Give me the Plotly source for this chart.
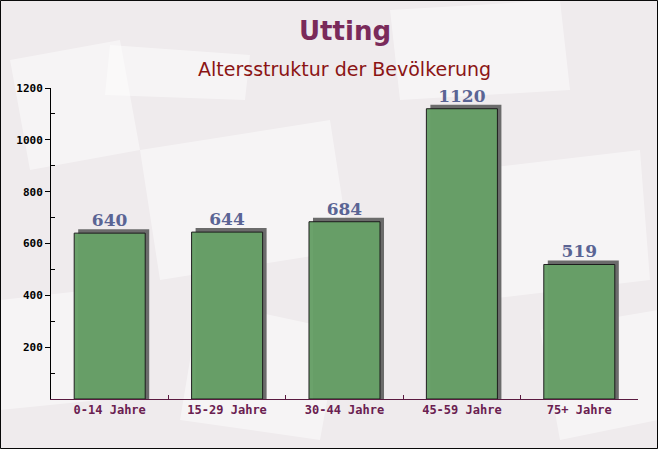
import plotly.graph_objects as go

categories = ["0-14 Jahre", "15-29 Jahre", "30-44 Jahre", "45-59 Jahre", "75+ Jahre"]
values = [640, 644, 684, 1120, 519]
y_ticks = [200, 400, 600, 800, 1000, 1200]
title = "Utting"
subtitle = "Altersstruktur der Bevölkerung"

W, H = 658, 449
ml, mr, mt, mb = 51, 20, 88, 50
pw, ph = W - ml - mr, H - mt - mb
ymax = 1200
lift = 4 * ymax / ph          # 4 px shadow lift in data units
shift = 4 / (pw / len(categories))  # 4 px shadow shift in category units
bw = 0.605

fig = go.Figure()
fig.add_trace(go.Bar(
    x=categories, y=[v + lift for v in values], width=bw, offset=-bw / 2 + shift,
    marker=dict(color="#6b6b6b", line=dict(width=0)), hoverinfo="skip", showlegend=False,
))
fig.add_trace(go.Bar(
    x=categories, y=values, width=bw, offset=-bw / 2,
    marker=dict(color="#67a067", opacity=0.97, line=dict(color="#1a1a1a", width=1)),
    text=[str(v) for v in values], textposition="outside", cliponaxis=False,
    textfont=dict(family="DejaVu Serif", size=17, color="#5a6494", weight="bold"),
    showlegend=False,
))


def px_to_paper(x, y):
    return (x - ml) / pw, (H - mb - y) / ph


# faint decorative envelope shapes in the background
envelopes = [
    [(10, 60), (120, 40), (140, 150), (30, 170)],
    [(140, 150), (330, 120), (350, 250), (160, 280)],
    [(390, 10), (560, 0), (570, 90), (400, 100)],
    [(470, 170), (640, 150), (650, 280), (480, 300)],
    [(200, 300), (340, 330), (320, 440), (180, 420)],
    [(540, 330), (658, 310), (658, 420), (560, 440)],
    [(0, 300), (90, 290), (100, 400), (0, 410)],
    [(110, 45), (250, 55), (245, 100), (105, 95)],
]
for poly in envelopes:
    pts = [px_to_paper(x, y) for x, y in poly]
    path = "M " + " L ".join(f"{px:.4f},{py:.4f}" for px, py in pts) + " Z"
    fig.add_shape(type="path", xref="paper", yref="paper", path=path,
                  fillcolor="rgba(255,255,255,0.45)", line=dict(width=0), layer="below")

fig.update_layout(
    width=W, height=H, barmode="overlay",
    margin=dict(l=ml, r=mr, t=mt, b=mb),
    paper_bgcolor="#efebed", plot_bgcolor="rgba(0,0,0,0)",
    title=None,
    annotations=[
        dict(text=title, x=0.5, xref="paper", y=px_to_paper(0, 31)[1], yref="paper",
             yanchor="middle", showarrow=False,
             font=dict(family="DejaVu Sans", size=26, color="#7a2a5a", weight="bold")),
        dict(text=subtitle, x=0.5, xref="paper", y=px_to_paper(0, 69)[1], yref="paper",
             yanchor="middle", showarrow=False,
             font=dict(family="DejaVu Sans", size=19, color="#8b1414")),
    ],
)

fig.update_xaxes(
    showgrid=False, showline=True, linecolor="#5a1a40", linewidth=1,
    ticks="inside", ticklen=4, tickcolor="#5a1a40", tickson="boundaries",
    range=[-0.5, 4.5], fixedrange=True,
    tickfont=dict(family="DejaVu Sans Mono", size=12, color="#6a2050", weight="bold"),
)
fig.update_yaxes(
    range=[0, ymax], showgrid=False, showline=True, linecolor="#000", linewidth=1,
    tickvals=y_ticks, ticks="outside", ticklen=5, tickcolor="#000",
    minor=dict(tickvals=[100, 300, 500, 700, 900, 1100], ticks="inside", ticklen=4, tickcolor="#000"),
    tickfont=dict(family="DejaVu Sans Mono", size=11, color="#000", weight="bold"),
    zeroline=False, fixedrange=True,
)
fig.add_shape(type="rect", xref="paper", yref="paper",
              x0=-ml / pw + 0.0008, x1=1 + mr / pw - 0.0008,
              y0=-mb / ph + 0.0015, y1=1 + mt / ph - 0.0015,
              line=dict(color="#000", width=1), fillcolor="rgba(0,0,0,0)", layer="above")

fig.write_html("out.html", config={"displayModeBar": False},
               post_script="document.body.style.margin='0';document.body.style.overflow='hidden';")
